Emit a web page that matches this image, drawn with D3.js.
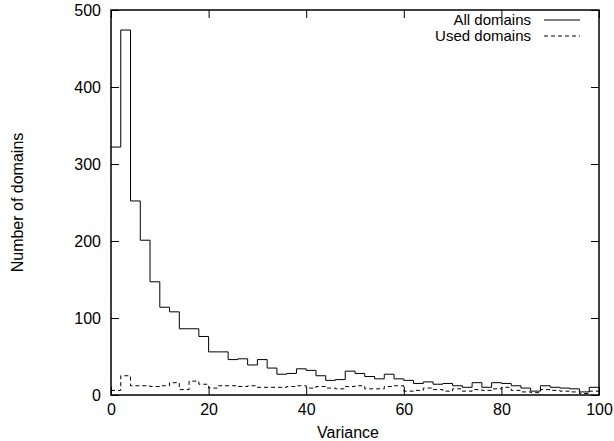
<!DOCTYPE html>
<html>
<head>
<meta charset="utf-8">
<script src="https://d3js.org/d3.v7.min.js"></script>
<style>
  body { margin: 0; background: #fff; }
  text { font-family: "Liberation Sans", Arial, sans-serif; font-size: 16px; fill: #000; }
</style>
</head>
<body>
<div id="chart"></div>
<script>
// histogram bins, width 2, from 0 to 100
var binWidth = 2;
var allDomains = [322, 474, 252, 201, 147, 114, 108, 86, 86, 76,
                  56, 56, 46, 47, 39, 46, 35, 27, 28, 34,
                  32, 25, 19, 20, 31, 28, 24, 21, 27, 21,
                  19, 15, 17, 14, 15, 12, 10, 16, 10, 16,
                  15, 12, 9, 5, 12, 10, 9, 8, 4, 10];
var usedDomains = [6, 25, 12, 12, 11, 12, 16, 7, 18, 14,
                   9, 12, 12, 11, 12, 10, 10, 10, 11, 12,
                   9, 11, 9, 8, 11, 12, 8, 8, 11, 12,
                   5, 6, 9, 7, 5, 8, 5, 7, 6, 8,
                   10, 6, 4, 3, 7, 6, 5, 4, 2, 5];
var xTicks = [0, 20, 40, 60, 80, 100];
var yTicks = [0, 100, 200, 300, 400, 500];

var margin = {top: 10, right: 15, bottom: 46, left: 111},
    width = 614 - margin.left - margin.right,
    height = 441 - margin.top - margin.bottom;

var svg = d3.select("#chart")
  .append("svg")
  .attr("width", 614)
  .attr("height", 441)
  .append("g")
  .attr("transform", "translate(" + margin.left + "," + margin.top + ")");

var x = d3.scaleLinear().domain([0, 100]).range([0, width]);
var y = d3.scaleLinear().domain([0, 500]).range([height, 0]);

// ticks go inward on all four sides, gnuplot style
var tick = 8;
svg.append("g")
  .attr("transform", "translate(0," + height + ")")
  .call(d3.axisBottom(x).tickValues(xTicks).tickSizeInner(-tick).tickSizeOuter(0).tickPadding(9))
  .call(g => g.select(".domain").remove());
svg.append("g")
  .call(d3.axisTop(x).tickValues(xTicks).tickSizeInner(-tick).tickSizeOuter(0).tickFormat(""))
  .call(g => g.select(".domain").remove());
svg.append("g")
  .call(d3.axisLeft(y).tickValues(yTicks).tickSizeInner(-tick).tickSizeOuter(0).tickPadding(10))
  .call(g => g.select(".domain").remove());
svg.append("g")
  .attr("transform", "translate(" + width + ",0)")
  .call(d3.axisRight(y).tickValues(yTicks).tickSizeInner(-tick).tickSizeOuter(0).tickFormat(""))
  .call(g => g.select(".domain").remove());

svg.selectAll(".tick text")
  .style("font-family", "'Liberation Sans', Arial, sans-serif")
  .style("font-size", "16px")
  .attr("fill", "#000");
svg.selectAll(".tick line").attr("stroke", "#000");

// step lines
function stepPoints(vals) {
  var pts = vals.map(function(v, i) { return [i * binWidth, v]; });
  pts.push([vals.length * binWidth, vals[vals.length - 1]]);
  return pts;
}
var line = d3.line()
  .x(function(d) { return x(d[0]); })
  .y(function(d) { return y(d[1]); })
  .curve(d3.curveStepAfter);

svg.append("path")
  .datum(stepPoints(allDomains))
  .attr("fill", "none")
  .attr("stroke", "#000")
  .attr("stroke-width", 1)
  .attr("d", line);

svg.append("path")
  .datum(stepPoints(usedDomains))
  .attr("fill", "none")
  .attr("stroke", "#000")
  .attr("stroke-width", 1)
  .attr("stroke-dasharray", "4,3")
  .attr("d", line);

// border
svg.append("rect")
  .attr("width", width)
  .attr("height", height)
  .attr("fill", "none")
  .attr("stroke", "#000")
  .attr("stroke-width", 1.5);

// axis titles
svg.append("text")
  .attr("x", width / 2 - 7)
  .attr("y", height + 43)
  .attr("text-anchor", "middle")
  .text("Variance");

svg.append("text")
  .attr("transform", "translate(" + (-88) + "," + (height / 2) + ")rotate(-90)")
  .attr("text-anchor", "middle")
  .text("Number of domains");

// legend
var legend = [
  {name: "All domains", dash: null},
  {name: "Used domains", dash: "4,3"}
];
var lg = svg.append("g").attr("transform", "translate(" + (width - 68) + ",15)");
legend.forEach(function(d, i) {
  lg.append("text")
    .attr("x", 0)
    .attr("y", i * 16)
    .style("font-size", "15px")
    .attr("text-anchor", "end")
    .text(d.name);
  lg.append("line")
    .attr("x1", 13).attr("x2", 49)
    .attr("y1", i * 16 - 5).attr("y2", i * 16 - 5)
    .attr("stroke", "#000")
    .attr("stroke-dasharray", d.dash);
});
</script>
</body>
</html>
